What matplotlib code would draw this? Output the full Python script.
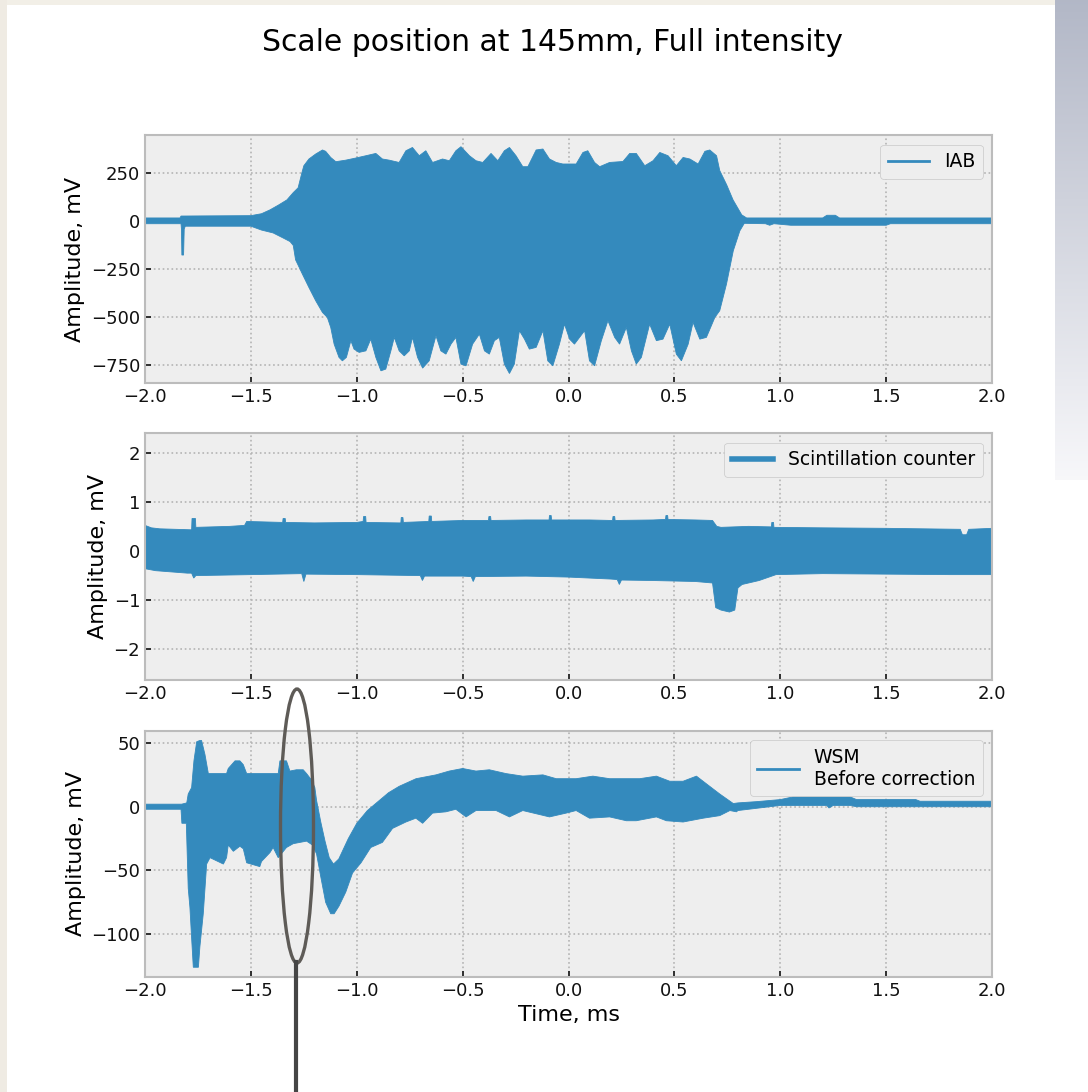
import numpy as np
import matplotlib
matplotlib.use("Agg")
import matplotlib.pyplot as plt
from matplotlib.lines import Line2D
from matplotlib.patches import Ellipse, Rectangle

# envelopes (time in ms, amplitude in mV)
iab_up_t = [-2.0, -1.835, -1.83, -1.5, -1.45, -1.41, -1.37, -1.33, -1.30, -1.277, -1.26, -1.25, -1.226, -1.194,
            -1.162, -1.147, -1.123, -1.099, -1.052, -1.005, -0.957, -0.910, -0.879, -0.847, -0.800, -0.768, -0.737,
            -0.705, -0.674, -0.642, -0.595, -0.563, -0.532, -0.508, -0.468, -0.437, -0.405, -0.366, -0.334, -0.303,
            -0.279, -0.248, -0.216, -0.192, -0.153, -0.121, -0.090, -0.058, -0.027, 0.036, 0.068, 0.091, 0.123,
            0.147, 0.194, 0.257, 0.289, 0.320, 0.360, 0.399, 0.431, 0.470, 0.509, 0.541, 0.573, 0.612, 0.644,
            0.667, 0.699, 0.714, 0.747, 0.777, 0.818, 0.841, 1.20, 1.22, 1.26, 1.28, 2.0]
iab_up = [18, 18, 28, 30, 40, 60, 85, 112, 150, 175, 250, 290, 325, 351, 372, 365, 333, 311, 319, 330,
          342, 354, 325, 319, 307, 368, 385, 342, 368, 307, 325, 316, 368, 389, 342, 316, 307, 354, 316, 368,
          385, 342, 285, 285, 372, 377, 325, 307, 299, 299, 359, 368, 307, 285, 307, 312, 354, 354, 290, 316,
          359, 342, 290, 333, 325, 299, 365, 372, 342, 265, 190, 112, 34, 18, 18, 32, 32, 18, 18]
iab_lo_t = [-2.0, -1.83, -1.828, -1.826, -1.818, -1.815, -1.81, -1.5, -1.45, -1.395, -1.35, -1.315, -1.30,
            -1.289, -1.257, -1.226, -1.194, -1.162, -1.139, -1.123, -1.107, -1.084, -1.068, -1.049, -1.028,
            -1.013, -0.989, -0.957, -0.934, -0.910, -0.886, -0.863, -0.839, -0.823, -0.800, -0.776, -0.752,
            -0.737, -0.713, -0.689, -0.658, -0.626, -0.603, -0.579, -0.555, -0.532, -0.508, -0.484, -0.453,
            -0.421, -0.397, -0.374, -0.350, -0.327, -0.303, -0.279, -0.256, -0.232, -0.208, -0.185, -0.153,
            -0.121, -0.098, -0.074, -0.043, -0.019, 0.005, 0.028, 0.052, 0.076, 0.099, 0.123, 0.155, 0.186,
            0.218, 0.241, 0.273, 0.297, 0.320, 0.344, 0.383, 0.415, 0.446, 0.478, 0.509, 0.533, 0.565, 0.588,
            0.620, 0.651, 0.691, 0.714, 0.746, 0.778, 0.809, 0.83, 0.93, 0.95, 0.97, 1.05, 1.5, 1.52, 2.0]
iab_lo = [-12, -12, -40, -175, -175, -40, -25, -25, -45, -60, -85, -105, -125, -200, -274, -344, -413, -474,
          -500, -552, -639, -708, -726, -708, -621, -665, -682, -674, -613, -708, -778, -769, -674, -604, -674,
          -700, -674, -604, -708, -764, -726, -595, -674, -691, -639, -604, -743, -752, -639, -587, -674, -691,
          -621, -604, -743, -792, -743, -569, -613, -665, -656, -569, -726, -752, -639, -535, -613, -639, -604,
          -569, -726, -752, -621, -517, -604, -639, -552, -674, -743, -708, -535, -621, -613, -535, -691, -726,
          -639, -526, -613, -604, -500, -465, -326, -153, -49, -10, -12, -20, -12, -20, -20, -12, -12]

sc_up_t = [-2.0, -1.97, -1.93, -1.78, -1.778, -1.762, -1.76, -1.6, -1.53, -1.52, -1.35, -1.348, -1.338, -1.336,
           -1.2, -1.0, -0.97, -0.968, -0.958, -0.956, -0.8, -0.792, -0.79, -0.782, -0.78, -0.66, -0.658, -0.648,
           -0.646, -0.5, -0.4, -0.378, -0.376, -0.368, -0.366, -0.2, -0.1, -0.092, -0.09, -0.082, -0.08, 0.1,
           0.2, 0.208, 0.21, 0.218, 0.22, 0.4, 0.45, 0.458, 0.46, 0.468, 0.47, 0.6, 0.68, 0.70, 0.72, 0.85,
           0.95, 0.958, 0.96, 0.968, 0.97, 1.2, 1.5, 1.85, 1.86, 1.88, 1.89, 2.0]
sc_up = [0.52, 0.47, 0.45, 0.43, 0.66, 0.66, 0.48, 0.50, 0.52, 0.60, 0.58, 0.66, 0.66, 0.58, 0.57, 0.58,
         0.60, 0.70, 0.70, 0.58, 0.57, 0.57, 0.68, 0.68, 0.58, 0.60, 0.71, 0.71, 0.60, 0.62, 0.62, 0.62,
         0.70, 0.70, 0.62, 0.63, 0.63, 0.63, 0.72, 0.72, 0.63, 0.63, 0.62, 0.62, 0.70, 0.70, 0.62, 0.63,
         0.64, 0.64, 0.72, 0.72, 0.64, 0.63, 0.62, 0.50, 0.48, 0.50, 0.49, 0.49, 0.58, 0.58, 0.48, 0.47,
         0.46, 0.44, 0.33, 0.33, 0.44, 0.46]
sc_lo_t = [-2.0, -1.95, -1.8, -1.78, -1.77, -1.76, -1.5, -1.26, -1.25, -1.24, -1.0, -0.7, -0.69, -0.68,
           -0.5, -0.46, -0.45, -0.44, -0.2, 0.0, 0.2, 0.23, 0.24, 0.25, 0.4, 0.6, 0.68, 0.695, 0.72, 0.76,
           0.785, 0.80, 0.82, 0.9, 0.98, 1.2, 1.5, 1.8, 2.0]
sc_lo = [-0.36, -0.40, -0.45, -0.45, -0.55, -0.50, -0.48, -0.46, -0.62, -0.47, -0.48, -0.50, -0.60, -0.51,
         -0.51, -0.52, -0.62, -0.52, -0.51, -0.53, -0.57, -0.58, -0.68, -0.59, -0.60, -0.62, -0.65, -1.15,
         -1.20, -1.24, -1.20, -0.75, -0.68, -0.60, -0.48, -0.46, -0.47, -0.48, -0.48]

wsm_up_t = [-2.0, -1.827, -1.803, -1.796, -1.780, -1.769, -1.756, -1.741, -1.733, -1.717, -1.701, -1.615,
            -1.607, -1.575, -1.552, -1.536, -1.520, -1.371, -1.363, -1.332, -1.316, -1.285, -1.253, -1.237,
            -1.214, -1.198, -1.19, -1.17, -1.15, -1.13, -1.11, -1.085, -1.04, -1.0, -0.95, -0.9, -0.85, -0.8,
            -0.72, -0.626, -0.563, -0.5, -0.437, -0.374, -0.295, -0.216, -0.121, -0.058, 0.036, 0.115, 0.194,
            0.257, 0.336, 0.415, 0.478, 0.541, 0.604, 0.651, 0.714, 0.778, 0.80, 0.889, 1.0, 1.06, 1.33,
            1.36, 1.64, 1.66, 2.0]
wsm_up = [2, 2, 3, 10, 15, 36, 51, 52, 52, 41, 26, 26, 30, 36, 36, 33, 26, 26, 36, 36, 28, 29, 29, 26, 21,
          15, 5, -12, -27, -40, -45, -41, -25, -13, -3, 4, 11, 16, 22, 25, 28, 30, 28, 29, 26, 24, 25, 22,
          22, 24, 22, 22, 22, 24, 20, 20, 24, 18, 10, 2.5, 3, 4, 5.6, 7.7, 7.7, 5.6, 5.6, 4.3, 4.3]
wsm_lo_t = [-2.0, -1.83, -1.826, -1.805, -1.796, -1.788, -1.780, -1.772, -1.748, -1.741, -1.725, -1.709,
            -1.693, -1.630, -1.615, -1.607, -1.583, -1.552, -1.536, -1.520, -1.458, -1.450, -1.410, -1.395,
            -1.371, -1.332, -1.300, -1.237, -1.21, -1.19, -1.17, -1.147, -1.123, -1.107, -1.084, -1.052,
            -1.02, -0.98, -0.934, -0.879, -0.831, -0.768, -0.721, -0.689, -0.642, -0.579, -0.532, -0.484,
            -0.437, -0.342, -0.279, -0.216, -0.09, -0.011, 0.036, 0.099, 0.194, 0.273, 0.32, 0.415, 0.462,
            0.541, 0.636, 0.714, 0.762, 0.793, 0.80, 0.9, 1.0, 1.22, 1.23, 1.25, 1.33, 1.36, 2.0]
wsm_lo = [-2, -2, -13, -13, -64, -79, -103, -126, -126, -110, -84, -45, -40, -45, -40, -30, -35, -31, -33,
          -44, -47, -43, -36, -32, -40, -32, -29, -27, -30, -37, -55, -75, -84, -84, -78, -67, -52, -44, -32,
          -28, -17, -12, -9, -13, -5, -4, -2, -8, -3, -3, -8, -3, -8, -5, -3, -9, -8, -11, -11, -8, -11, -12,
          -9, -7, -3, -4, -3, -1, 1, 1, -1, 1, 1, 0, 0]

x_ticks = [-2.0, -1.5, -1.0, -0.5, 0.0, 0.5, 1.0, 1.5, 2.0]
labels = ['IAB', 'Scintillation counter', 'WSM\nBefore correction']
y_ticks = [[-750, -500, -250, 0, 250], [-2, -1, 0, 1, 2], [-100, -50, 0, 50]]
y_lims = [(-843, 449), (-2.62, 2.39), (-133.4, 59.7)]

plt.style.use('bmh')
plt.rcParams['font.family'] = 'DejaVu Sans'
BLUE = '#348ABD'

fig = plt.figure(figsize=(10.88, 10.92), dpi=100)
fig.patch.set_facecolor('white')

# screenshot surroundings
fig.add_artist(Rectangle((0, 1 - 5 / 1092), 1055 / 1088, 5 / 1092, transform=fig.transFigure,
                         color='#f2efe7', lw=0, zorder=-5))
fig.add_artist(Rectangle((0, 0), 7 / 1088, 1, transform=fig.transFigure, color='#efebe3', lw=0, zorder=-5))
grad_ax = fig.add_axes([1055 / 1088, 1 - 480 / 1092, 33 / 1088, 480 / 1092])
top_c = np.array([0.70, 0.72, 0.78])
bot_c = np.array([0.97, 0.97, 0.98])
k = np.linspace(0, 1, 200)[:, None, None]
grad_ax.imshow(top_c * (1 - k) + bot_c * k, aspect='auto')
grad_ax.set_axis_off()

positions = [[0.1333, 0.6490, 0.7785, 0.2272],
             [0.1333, 0.3773, 0.7785, 0.2259],
             [0.1333, 0.1056, 0.7785, 0.2253]]
traces = [(iab_up_t, iab_up, iab_lo_t, iab_lo, 2.0),
          (sc_up_t, sc_up, sc_lo_t, sc_lo, 4.0),
          (wsm_up_t, wsm_up, wsm_lo_t, wsm_lo, 2.0)]

for i, (ut, uv, lt, lv, lw) in enumerate(traces):
    ax = fig.add_axes(positions[i])
    ax.set_facecolor('#eeeeee')
    ax.set_axisbelow(True)
    ax.grid(True, color='#b4b4b4', linestyle=':', linewidth=1.2)
    xs = np.concatenate([ut, lt[::-1]])
    ys = np.concatenate([uv, lv[::-1]])
    ax.fill(xs, ys, color=BLUE, lw=0.6)
    ax.set_xlim(-2.0, 2.0)
    ax.set_ylim(*y_lims[i])
    ax.set_xticks(x_ticks)
    ax.set_yticks(y_ticks[i])
    ax.tick_params(direction='in', length=4, width=1.3, color='#222222', labelsize=13,
                   top=False, right=False, labelcolor='#111111')
    for sp in ax.spines.values():
        sp.set_color('#bcbcbc')
        sp.set_linewidth(1.5)
    ax.set_ylabel('Amplitude, mV', fontsize=16)
    ax.legend(handles=[Line2D([], [], color=BLUE, lw=lw)], labels=[labels[i]], loc='upper right',
              fontsize=13.5, handlelength=2.2, facecolor='#eeeeee', edgecolor='#c8c8c8',
              framealpha=1, fancybox=True)
    if i == 2:
        ax.set_xlabel('Time, ms', fontsize=16)

fig.text(0.508, 0.9615, 'Scale position at 145mm, Full intensity', ha='center', va='center', fontsize=21.5)

# hand-drawn highlight around the WSM trace
fig.add_artist(Ellipse((297 / 1088, 1 - 826 / 1092), 33 / 1088, 274 / 1092, transform=fig.transFigure,
                       fill=False, edgecolor='#5e5b57', lw=2.4))
fig.add_artist(Line2D([296 / 1088, 296 / 1088], [1 - 962 / 1092, 0], transform=fig.transFigure,
                      color='#454545', lw=3))

fig.savefig('out.png', dpi=100)
